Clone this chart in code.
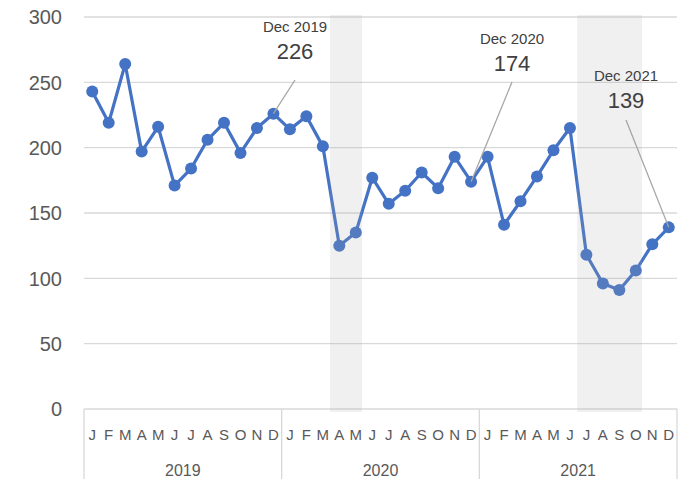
<!DOCTYPE html>
<html>
<head>
<meta charset="utf-8">
<script src="https://cdn.jsdelivr.net/npm/d3@7"></script>
<style>
  body { margin: 0; background: #ffffff; }
  text { font-family: "Liberation Sans", Arial, sans-serif; }
</style>
</head>
<body>
<div class="chart"></div>
<script>
const years = ["2019", "2020", "2021"];
const monthLetters = ["J", "F", "M", "A", "M", "J", "J", "A", "S", "O", "N", "D"];
const values2019 = [243, 219, 264, 197, 216, 171, 184, 206, 219, 196, 215, 226];
const values2020 = [214, 224, 201, 125, 135, 177, 157, 167, 181, 169, 193, 174];
const values2021 = [193, 141, 159, 178, 198, 215, 118, 96, 91, 106, 126, 139];
const yTicks = [0, 50, 100, 150, 200, 250, 300];
// shaded periods: [first month index, last month index]
const shadedRanges = [[15, 16], [30, 33]];
// callouts: month index, label
const callouts = [
  { index: 11, label: "Dec 2019" },
  { index: 23, label: "Dec 2020" },
  { index: 35, label: "Dec 2021" }
];

init();

function init() {
  const series = [values2019, values2020, values2021];
  const data = [];
  series.forEach((vals, yi) => {
    vals.forEach((v, mi) => {
      data.push({ key: years[yi] + "-" + mi, year: years[yi], month: monthLetters[mi], value: v });
    });
  });
  drawChart(data);
}

function drawChart(data) {
  const width = 686,
    height = 479;
  const margin = { top: 17, right: 9, bottom: 70, left: 84 };

  const svg = d3
    .select(".chart")
    .append("svg")
    .attr("width", width)
    .attr("height", height);

  const x = d3
    .scaleBand()
    .domain(data.map(d => d.key))
    .range([margin.left, width - margin.right]);

  const y = d3
    .scaleLinear()
    .domain([0, 300])
    .range([height - margin.bottom, margin.top]);

  const cx = i => x(data[i].key) + x.bandwidth() / 2;

  // gridlines
  svg
    .append("g")
    .selectAll("line")
    .data(yTicks)
    .join("line")
    .attr("x1", margin.left)
    .attr("x2", width - margin.right)
    .attr("y1", d => y(d))
    .attr("y2", d => y(d))
    .attr("stroke", "#d9d9d9")
    .attr("stroke-width", 1.3);

  // y labels
  svg
    .append("g")
    .selectAll("text")
    .data(yTicks)
    .join("text")
    .attr("x", 62)
    .attr("y", d => y(d))
    .attr("dy", "0.36em")
    .attr("text-anchor", "end")
    .attr("fill", "#595959")
    .attr("font-size", "20px")
    .text(d => d);

  // category axis: year separators
  const yearStarts = years.map((yr, i) => x(data[i * 12].key));
  yearStarts.push(width - margin.right);
  svg
    .append("g")
    .selectAll("line")
    .data(yearStarts)
    .join("line")
    .attr("x1", d => d)
    .attr("x2", d => d)
    .attr("y1", y(0))
    .attr("y2", height)
    .attr("stroke", "#d9d9d9")
    .attr("stroke-width", 1.3);

  svg
    .append("g")
    .selectAll("text")
    .data(data)
    .join("text")
    .attr("x", (d, i) => cx(i))
    .attr("y", 440)
    .attr("text-anchor", "middle")
    .attr("fill", "#595959")
    .attr("font-size", "15px")
    .text(d => d.month);

  svg
    .append("g")
    .selectAll("text")
    .data(years)
    .join("text")
    .attr("x", (d, i) => (yearStarts[i] + yearStarts[i + 1]) / 2)
    .attr("y", 476)
    .attr("text-anchor", "middle")
    .attr("fill", "#595959")
    .attr("font-size", "16px")
    .text(d => d);

  // line + markers
  const line = d3
    .line()
    .x((d, i) => cx(i))
    .y(d => y(d.value));

  svg
    .append("path")
    .datum(data)
    .attr("fill", "none")
    .attr("stroke", "#4472c4")
    .attr("stroke-width", 3.2)
    .attr("stroke-linejoin", "round")
    .attr("d", line);

  svg
    .append("g")
    .selectAll("circle")
    .data(data)
    .join("circle")
    .attr("cx", (d, i) => cx(i))
    .attr("cy", d => y(d.value))
    .attr("r", 6)
    .attr("fill", "#4472c4");

  // shaded periods drawn on top, semi transparent
  svg
    .append("g")
    .selectAll("rect")
    .data(shadedRanges)
    .join("rect")
    .attr("x", d => x(data[d[0]].key) - 1)
    .attr("width", d => x(data[d[1]].key) + x.bandwidth() - x(data[d[0]].key) - 1)
    .attr("y", y(300) - 2)
    .attr("height", y(0) - y(300) + 5)
    .attr("fill", "#a6a6a6")
    .attr("fill-opacity", 0.17);

  // callouts
  const calloutPos = [
    { tx: 295, ty: 32, lx: 295, ly: 80 },
    { tx: 512, ty: 44, lx: 512, ly: 82 },
    { tx: 626, ty: 81, lx: 626, ly: 120 }
  ];
  const c = svg
    .append("g")
    .selectAll("g")
    .data(callouts)
    .join("g");

  c.append("line")
    .attr("x1", (d, i) => calloutPos[i].lx)
    .attr("y1", (d, i) => calloutPos[i].ly)
    .attr("x2", d => cx(d.index))
    .attr("y2", d => y(data[d.index].value))
    .attr("stroke", "#a6a6a6")
    .attr("stroke-width", 1.3);

  c.append("text")
    .attr("x", (d, i) => calloutPos[i].tx)
    .attr("y", (d, i) => calloutPos[i].ty)
    .attr("text-anchor", "middle")
    .attr("fill", "#404040")
    .attr("font-size", "15px")
    .text(d => d.label);

  c.append("text")
    .attr("x", (d, i) => calloutPos[i].tx)
    .attr("y", (d, i) => calloutPos[i].ty + 27)
    .attr("text-anchor", "middle")
    .attr("fill", "#404040")
    .attr("font-size", "22px")
    .text(d => data[d.index].value);
}
</script>
</body>
</html>
